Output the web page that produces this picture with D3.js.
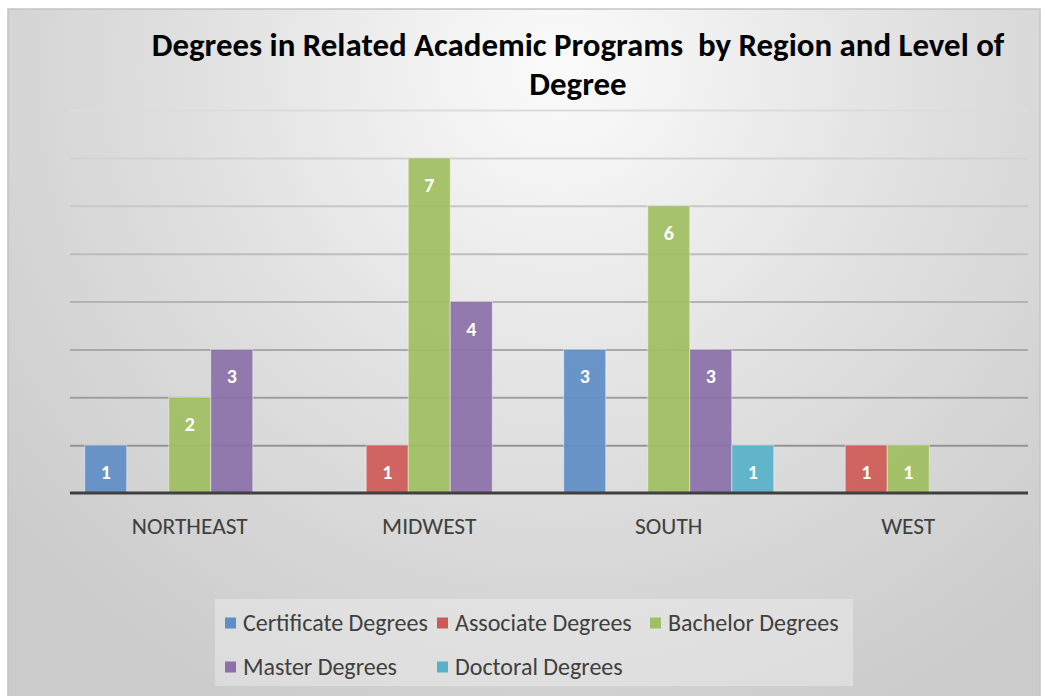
<!DOCTYPE html>
<html>
<head>
<meta charset="utf-8">
<script src="https://cdn.jsdelivr.net/npm/d3@7"></script>
<style>
  body { margin: 0; background: #fff; }
  text { font-family: Carlito, Lato, sans-serif; }
</style>
</head>
<body>
<div id="chart"></div>
<script>
// data
const regions = ['NORTHEAST', 'MIDWEST', 'SOUTH', 'WEST'];
const seriesNames = ['Certificate Degrees', 'Associate Degrees', 'Bachelor Degrees', 'Master Degrees', 'Doctoral Degrees'];
const certificate = [1, 0, 3, 0];
const associate = [0, 1, 0, 1];
const bachelor = [2, 7, 6, 1];
const master = [3, 4, 3, 0];
const doctoral = [0, 0, 1, 0];
const colors = ['#5f8ec6', '#cd5a57', '#a0bf62', '#8b70a9', '#58b0c9'];
const titleLines = ['Degrees in Related Academic Programs  by Region and Level of', 'Degree'];

const values = [certificate, associate, bachelor, master, doctoral];

const width = 1045, height = 696;
const svg = d3.select('#chart').append('svg')
  .attr('width', width)
  .attr('height', height);

const defs = svg.append('defs');
const grad = defs.append('radialGradient')
  .attr('id', 'bg')
  .attr('gradientUnits', 'userSpaceOnUse')
  .attr('cx', 560).attr('cy', 70).attr('r', 720);
grad.append('stop').attr('offset', '0%').attr('stop-color', '#fbfbfb');
grad.append('stop').attr('offset', '55%').attr('stop-color', '#dedede');
grad.append('stop').attr('offset', '100%').attr('stop-color', '#cbcbcb');

svg.append('rect')
  .attr('x', 8).attr('y', 9)
  .attr('width', 1032).attr('height', 690)
  .attr('fill', 'url(#bg)')
  .attr('stroke', '#c4c4c4')
  .attr('stroke-width', 1.5);

// scales
const x0 = d3.scaleBand().domain(regions).range([70, 1028]).padding(0);
const x1 = d3.scaleBand().domain(seriesNames).range([0, x0.bandwidth()])
  .paddingInner(0).paddingOuter(0.35);
const y = d3.scaleLinear().domain([0, 8]).range([493, 110]);
const gridColor = d3.scaleLinear().domain([0, 8]).range(['#8a8a8a', '#dcdcdc']);

// gridlines
const grid = svg.append('g')
  .attr('transform', 'translate(70,0)')
  .call(d3.axisLeft(y).ticks(8).tickSize(-958).tickFormat(''));
grid.select('.domain').remove();
grid.selectAll('.tick line')
  .attr('stroke', d => gridColor(d))
  .attr('stroke-width', 2);
grid.selectAll('.tick').filter(d => d === 0).remove();

// bars
const groups = svg.append('g').selectAll('g')
  .data(regions)
  .enter().append('g')
  .attr('transform', d => `translate(${x0(d)},0)`);

const cells = groups.selectAll('g')
  .data((r, i) => seriesNames.map((s, j) => ({ series: s, idx: j, value: values[j][i] })).filter(d => d.value > 0))
  .enter().append('g');

cells.append('rect')
  .attr('x', d => x1(d.series))
  .attr('y', d => y(d.value))
  .attr('width', x1.bandwidth())
  .attr('height', d => y(0) - y(d.value))
  .attr('fill', d => colors[d.idx])
  .attr('fill-opacity', 0.93)
  .attr('stroke', 'rgba(255,255,255,0.45)')
  .attr('stroke-width', 1);

cells.append('text')
  .attr('x', d => x1(d.series) + x1.bandwidth() / 2)
  .attr('y', d => y(d.value) + 34)
  .attr('text-anchor', 'middle')
  .attr('fill', '#fff')
  .style('font-weight', 'bold')
  .style('font-size', '20px')
  .text(d => d.value);

// baseline
svg.append('line')
  .attr('x1', 70).attr('x2', 1028)
  .attr('y1', y(0)).attr('y2', y(0))
  .attr('stroke', '#3f3f3f')
  .attr('stroke-width', 3);

// category labels
const catLabels = svg.append('g').selectAll('text')
  .data(regions)
  .enter().append('text')
  .attr('x', d => x0(d) + x0.bandwidth() / 2)
  .attr('y', 534)
  .attr('text-anchor', 'middle')
  .attr('fill', '#404040')
  .style('font-size', '19px')
  .text(d => d);

function fitSize(sel, base, target) {
  const w = sel.node().getComputedTextLength();
  return base * target / w;
}
const catSize = fitSize(catLabels.filter(d => d === 'NORTHEAST'), 19, 116);
catLabels.style('font-size', catSize + 'px');

// title
const title = svg.append('g').selectAll('text')
  .data(titleLines)
  .enter().append('text')
  .attr('x', 578)
  .attr('y', (d, i) => 56 + i * 39)
  .attr('text-anchor', 'middle')
  .attr('fill', '#000')
  .style('white-space', 'pre')
  .style('font-weight', 'bold')
  .style('font-size', '28px')
  .text(d => d);
const titleSize = fitSize(title.filter((d, i) => i === 0), 28, 853);
title.style('font-size', titleSize + 'px');

// legend
svg.append('rect')
  .attr('x', 215).attr('y', 599)
  .attr('width', 638).attr('height', 87)
  .attr('fill', 'rgba(255,255,255,0.3)');

const legendCols = [225, 437, 650];
const legendRows = [623, 667];
const legend = svg.append('g').selectAll('g')
  .data(seriesNames)
  .enter().append('g')
  .attr('transform', (d, i) => `translate(${legendCols[i % 3]},${legendRows[Math.floor(i / 3)]})`);

legend.append('rect')
  .attr('x', 0).attr('y', -5.5)
  .attr('width', 11).attr('height', 11)
  .attr('fill', (d, i) => colors[i]);

const legendText = legend.append('text')
  .attr('x', 18)
  .attr('y', 0)
  .attr('dy', '0.35em')
  .attr('fill', '#404040')
  .style('font-size', '20px')
  .text(d => d);
const legSize = fitSize(legendText.filter(d => d === 'Certificate Degrees'), 20, 185);
legendText.style('font-size', legSize + 'px');
</script>
</body>
</html>
